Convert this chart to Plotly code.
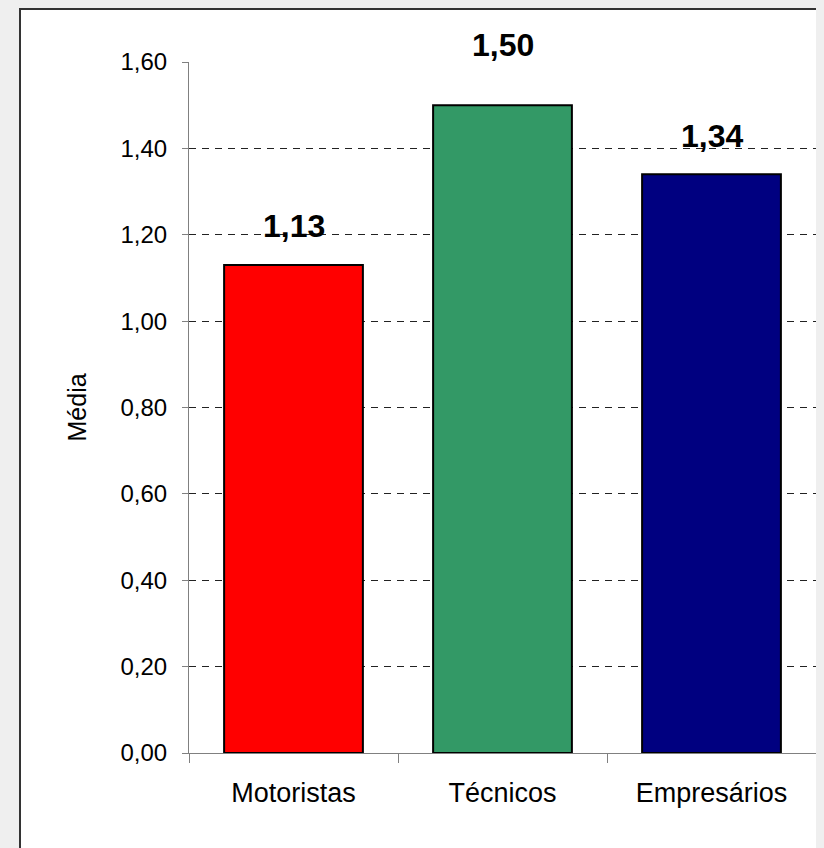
import plotly.graph_objects as go

categories = ["Motoristas", "Técnicos", "Empresários"]
values = [1.13, 1.50, 1.34]
colors = ["#FF0000", "#339966", "#000080"]
y_ticks = [0.0, 0.2, 0.4, 0.6, 0.8, 1.0, 1.2, 1.4, 1.6]
grid_vals = [0.2, 0.4, 0.6, 0.8, 1.0, 1.2, 1.4]
y_title = "Média"

OFF = 8  # default body margin of the html page
W, H = 824 - OFF, 848 - OFF
# plot area in screen pixels
SX0, SX1, SY0, SY1 = 189, 816, 62, 753
L, R, T, B = SX0 - OFF, W - (SX1 - OFF), SY0 - OFF, H - (SY1 - OFF)
pw, ph = W - L - R, H - T - B

def fmt(v):
    return f"{v:.2f}".replace(".", ",")

def px_x(sx):
    return (sx - SX0) / pw

def px_y(sy):
    return (SY1 - sy) / ph

FONT = "Liberation Sans, Arial, sans-serif"
label_shift = [19, 40, 18]  # pixel offsets of the value labels above bars

fig = go.Figure()
fig.add_trace(go.Bar(
    x=categories, y=values,
    marker=dict(color=colors, line=dict(color="black", width=2)),
    hoverinfo="skip", showlegend=False,
))
fig.add_trace(go.Scatter(
    x=categories, y=values, yaxis="y2", mode="markers",
    marker=dict(opacity=0), hoverinfo="skip", showlegend=False,
))

annotations = []
for c, v, s in zip(categories, values, label_shift):
    annotations.append(dict(
        x=c, y=v, xref="x", yref="y", text="<b>" + fmt(v) + "</b>",
        showarrow=False, yanchor="bottom", yshift=s,
        font=dict(family=FONT, size=32, color="black"),
    ))
annotations.append(dict(
    x=px_x(76), y=0.5, xref="paper", yref="paper", text=y_title,
    textangle=-90, showarrow=False, xanchor="center", yanchor="middle",
    font=dict(family=FONT, size=25, color="black"),
))

fig.update_layout(
    width=W, height=H,
    margin=dict(l=L, r=R, t=T, b=B, pad=0),
    paper_bgcolor="#efefef",
    plot_bgcolor="white",
    bargap=0.336,
    separators=",.",
    font=dict(family=FONT, color="black"),
    xaxis=dict(
        type="category", range=[-0.5, 2.5],
        showline=True, linecolor="#808080", linewidth=1,
        ticks="outside", ticklen=9, tickcolor="#808080", tickwidth=1,
        tickson="boundaries", showgrid=False, zeroline=False,
        tickfont=dict(family=FONT, size=27, color="black"),
        ticklabelstandoff=16,
    ),
    yaxis=dict(
        range=[0, 1.6], tickvals=y_ticks,
        ticktext=[fmt(v) for v in y_ticks],
        showline=True, linecolor="#808080", linewidth=1,
        ticks="outside", ticklen=6, tickcolor="#808080", tickwidth=1,
        showgrid=False, zeroline=False,
        tickfont=dict(family=FONT, size=24, color="black"),
        ticklabelstandoff=10,
    ),
    yaxis2=dict(
        overlaying="y", range=[0, 1.6], tickvals=grid_vals,
        showticklabels=False, ticks="", showline=False, zeroline=False,
        showgrid=True, gridcolor="#222222", gridwidth=1, griddash="7px,6px",
    ),
    shapes=[dict(
        type="rect", xref="paper", yref="paper", layer="below",
        x0=px_x(20), x1=px_x(850), y0=px_y(870), y1=px_y(9),
        fillcolor="white", line=dict(color="#333333", width=2),
    )],
    annotations=annotations,
)

fig.write_html(
    "out.html",
    post_script="document.body.style.background='#efefef';",
)
